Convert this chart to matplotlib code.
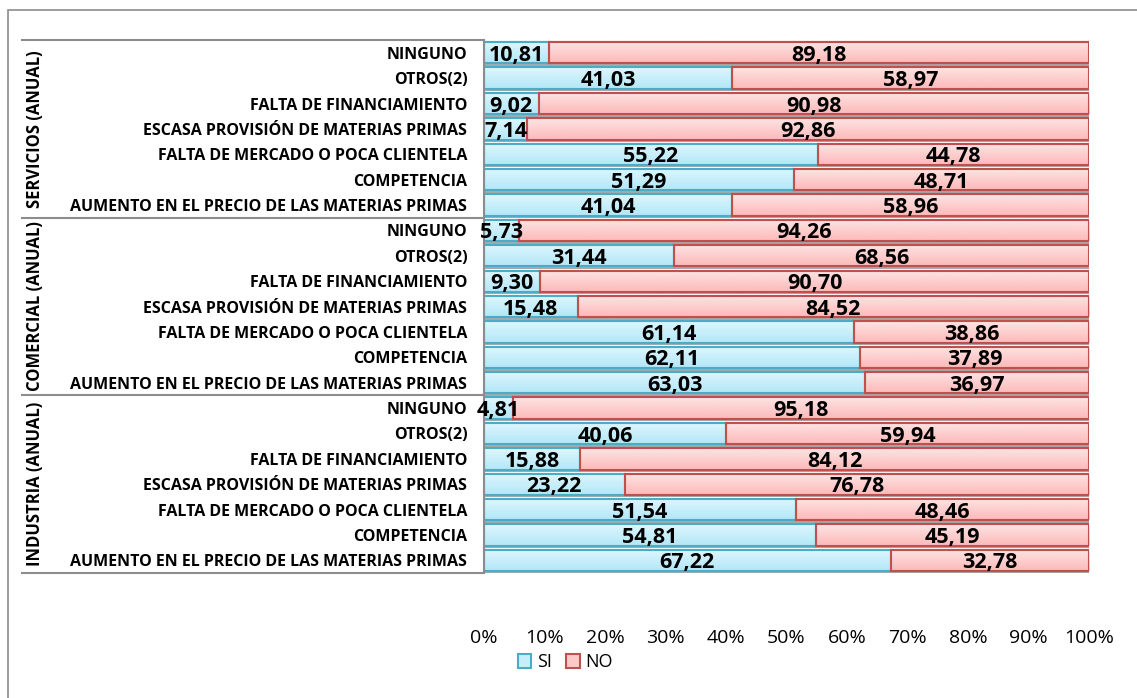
import numpy as np
import matplotlib.pyplot as plt
from matplotlib.patches import Rectangle
from matplotlib.colors import LinearSegmentedColormap
import matplotlib.transforms as mtransforms

plt.rcParams['font.family'] = ['Open Sans', 'DejaVu Sans']

# Datos (de abajo hacia arriba dentro de cada grupo)
causas = ['AUMENTO EN EL PRECIO DE LAS MATERIAS PRIMAS', 'COMPETENCIA',
          'FALTA DE MERCADO O POCA CLIENTELA', 'ESCASA PROVISIÓN DE MATERIAS PRIMAS',
          'FALTA DE FINANCIAMIENTO', 'OTROS(2)', 'NINGUNO']
grupos = ['INDUSTRIA (ANUAL)', 'COMERCIAL (ANUAL)', 'SERVICIOS (ANUAL)']

si_industria = [67.22, 54.81, 51.54, 23.22, 15.88, 40.06, 4.81]
no_industria = [32.78, 45.19, 48.46, 76.78, 84.12, 59.94, 95.18]
si_comercial = [63.03, 62.11, 61.14, 15.48, 9.30, 31.44, 5.73]
no_comercial = [36.97, 37.89, 38.86, 84.52, 90.70, 68.56, 94.26]
si_servicios = [41.04, 51.29, 55.22, 7.14, 9.02, 41.03, 10.81]
no_servicios = [58.96, 48.71, 44.78, 92.86, 90.98, 58.97, 89.18]

si = np.array(si_industria + si_comercial + si_servicios)
no = np.array(no_industria + no_comercial + no_servicios)
etiquetas = causas * 3
y = np.arange(len(si))

fig = plt.figure(figsize=(11.37, 6.98), dpi=100)
ax = fig.add_axes([0.4257, 0.179, 0.5321, 0.7636])

# borde exterior
fig.patches.append(Rectangle((8 / 1137, -0.01), 1.2, 1 - 10 / 698 + 0.01,
                             transform=fig.transFigure, fill=False,
                             edgecolor='#8c8c8c', linewidth=1.2))

cmap_si = LinearSegmentedColormap.from_list('si', ['#b3e7f8', '#def6fd'])
cmap_no = LinearSegmentedColormap.from_list('no', ['#fdb9b9', '#fde4e4'])
grad = np.linspace(0, 1, 64).reshape(-1, 1)

tot = si + no
h = 0.84
# sombra gris bajo cada fila
ax.barh(y - 0.1, tot / tot * 100 + 0.25, height=h, color='#a9a9a9', zorder=1.5)
b1 = ax.barh(y, si / tot * 100, height=h, color='#c6eefa', edgecolor='#4bacc6',
             linewidth=1.5, label='SI', zorder=2)
b2 = ax.barh(y, no / tot * 100, left=si / tot * 100, height=h, color='#fcc9c9',
             edgecolor='#c0504d', linewidth=1.5, label='NO', zorder=2)
for barras, cm in [(b1, cmap_si), (b2, cmap_no)]:
    for b in barras:
        x0b, y0b = b.get_x(), b.get_y()
        im = ax.imshow(grad, cmap=cm, aspect='auto', origin='lower',
                       extent=(x0b, x0b + b.get_width(), y0b, y0b + b.get_height()),
                       zorder=2.1)
        im.set_clip_path(b)
        ax.add_patch(Rectangle((x0b, y0b), b.get_width(), b.get_height(),
                               fill=False, edgecolor=b.get_edgecolor(),
                               linewidth=1.5, zorder=2.2))

for yi, s, n, t in zip(y, si, no, tot):
    ax.text(s / t * 50, yi - 0.1, f'{s:.2f}'.replace('.', ','), ha='center',
            va='center', fontsize=15.5, fontweight='bold', zorder=5)
    ax.text(s / t * 100 + n / t * 50, yi - 0.1, f'{n:.2f}'.replace('.', ','),
            ha='center', va='center', fontsize=15.5, fontweight='bold', zorder=5)

ax.set_xlim(0, 100)
ax.set_ylim(-0.5, len(si) - 0.5)
ax.set_yticks(y)
ax.set_yticklabels(etiquetas, fontsize=11.5, fontweight='bold')
ax.set_xticks(np.arange(0, 101, 10))
ax.set_xticklabels([f'{v}%' for v in range(0, 101, 10)], fontsize=14)
ax.tick_params(axis='both', length=0)
ax.tick_params(axis='x', pad=40)
ax.tick_params(axis='y', pad=12)
for s in ['top', 'right', 'bottom']:
    ax.spines[s].set_visible(False)
ax.spines['left'].set_color('#8c8c8c')
ax.spines['left'].set_linewidth(1.5)
ax.spines['left'].set_zorder(3)

# separadores y nombres de grupo
trans = mtransforms.blended_transform_factory(ax.transAxes, ax.transData)
x0 = (22 - 484) / 605
for yb in [-0.5, 6.5, 13.5, 20.5]:
    ax.plot([x0, 0], [yb, yb], transform=trans, color='#8c8c8c', lw=1.5,
            clip_on=False)
for i, g in enumerate(grupos):
    ax.text((35 - 484) / 605, 7 * i + 3, g, transform=trans, rotation=90,
            ha='center', va='center', fontsize=12, fontweight='bold')

fig.legend(handles=[b1, b2], labels=['SI', 'NO'], loc='center',
           bbox_to_anchor=(0.497, 0.051), ncol=2, frameon=False, fontsize=13,
           handlelength=0.75, handleheight=0.75, handletextpad=0.3,
           columnspacing=0.8)

fig.savefig('out.png', dpi=100)
